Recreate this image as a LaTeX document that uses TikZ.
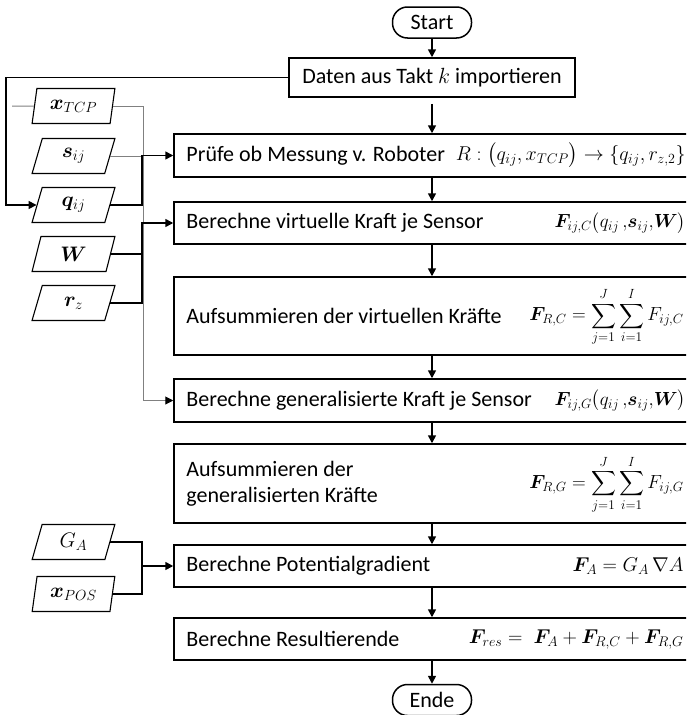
\RequirePackage{fix-cm}
\documentclass[tikz,border=0pt]{standalone}
\usepackage{amsmath}
\usepackage{bm}
\usepackage{fontspec}
\setmainfont{Carlito}
\usetikzlibrary{arrows.meta,shapes.geometric,calc}

\tikzset{
  txt/.style={font=\fontsize{22}{26}\selectfont, inner sep=0pt},
  mth/.style={font=\fontsize{20}{24}\selectfont, inner sep=0pt},
  summ/.style={font=\fontsize{19}{23}\selectfont, inner sep=0pt},
  stepbox/.style={draw, line width=1.5pt, minimum width=516pt, inner sep=0pt},
  term/.style={draw, line width=1.5pt, rounded corners=15pt, minimum width=79pt,
    minimum height=31pt, inner sep=0pt, font=\fontsize{22}{26}\selectfont},
  io/.style={draw, line width=1.1pt, trapezium, trapezium left angle=76,
    trapezium right angle=104, trapezium stretches=true, minimum width=83pt,
    minimum height=35pt, inner sep=0pt, font=\fontsize{21}{25}\selectfont},
  flow/.style={line width=1.6pt, -{Triangle[length=8pt,width=8pt]}},
  link/.style={line width=1.6pt},
  feed/.style={draw=gray, line width=1pt},
  feedarrow/.style={draw=gray, line width=1pt, -{Triangle[length=8pt,width=8pt,color=black]}},
}

\begin{document}
\begin{tikzpicture}[x=1pt,y=-1pt]
\clip (0,0) rectangle (686,715);

% terminals and process steps
\node[term] (start) at (432,22.5) {Start};
\node[draw, line width=1.5pt, minimum width=286pt, minimum height=39pt, inner sep=0pt,
      font=\fontsize{22}{26}\selectfont] (daten) at (432,77.5) {Daten aus Takt $k$ importieren};

\node[stepbox, minimum height=43pt] (b1) at (432,155.5) {};
\node[stepbox, minimum height=42pt] (b2) at (432,223) {};
\node[stepbox, minimum height=78pt] (b3) at (432,316) {};
\node[stepbox, minimum height=43pt] (b4) at (432,400.5) {};
\node[stepbox, minimum height=79pt] (b5) at (432,483.5) {};
\node[stepbox, minimum height=42pt] (b6) at (432,566) {};
\node[stepbox, minimum height=42pt] (b7) at (432,639) {};
\node[term] (ende) at (432,700) {Ende};

% step descriptions
\node[txt, anchor=west] (b1l) at ([xshift=13pt]b1.west) {Prüfe ob Messung v. Roboter};
\node[txt, anchor=west] (b2l) at ([xshift=13pt]b2.west) {Berechne virtuelle Kraft je Sensor};
\node[txt, anchor=west] (b3l) at ([xshift=13pt]b3.west) {Aufsummieren der virtuellen Kräfte};
\node[txt, anchor=west] (b4l) at ([xshift=13pt]b4.west) {Berechne generalisierte Kraft je Sensor};
\node[txt, anchor=west, align=left] (b5l) at ([xshift=13pt]b5.west) {Aufsummieren der\\generalisierten Kräfte};
\node[txt, anchor=west] (b6l) at ([xshift=13pt]b6.west) {Berechne Potentialgradient};
\node[txt, anchor=west] (b7l) at ([xshift=13pt]b7.west) {Berechne Resultierende};

% formulas
\node[mth, anchor=east] (b1f) at ([xshift=-5pt]b1.east)
  {$R:\bigl(q_{ij},x_{TCP}\bigr)\rightarrow\{q_{ij},r_{z,2}\}$};
\node[mth, anchor=east, font=\fontsize{19}{23}\selectfont] (b2f) at ([xshift=-5pt]b2.east)
  {$\bm{F}_{ij,C}\bigl(q_{ij}\,{,}\bm{s}_{ij}{,}\bm{W}\bigr)$};
\node[summ, anchor=east] (b3f) at ([xshift=-7pt,yshift=-1pt]b3.east)
  {$\displaystyle \bm{F}_{R,C}=\sum_{j=1}^{J}\sum_{i=1}^{I}F_{ij,C}$};
\node[mth, anchor=east, font=\fontsize{19}{23}\selectfont] (b4f) at ([xshift=-5pt]b4.east)
  {$\bm{F}_{ij,G}\bigl(q_{ij}\,{,}\bm{s}_{ij}{,}\bm{W}\bigr)$};
\node[summ, anchor=east] (b5f) at ([xshift=-7pt,yshift=-1pt]b5.east)
  {$\displaystyle \bm{F}_{R,G}=\sum_{j=1}^{J}\sum_{i=1}^{I}F_{ij,G}$};
\node[mth, anchor=east] (b6f) at ([xshift=-7pt]b6.east)
  {$\bm{F}_{A}=G_A\,\nabla A$};
\node[mth, anchor=east] (b7f) at ([xshift=-7pt]b7.east)
  {$\bm{F}_{res}=\;\bm{F}_{A}+\bm{F}_{R,C}+\bm{F}_{R,G}$};

% input data
\node[io] (xtcp) at (73.5,106) {$\bm{x}_{TCP}$};
\node[io] (sij)  at (73.5,156) {$\bm{s}_{ij}$};
\node[io] (qij)  at (73.5,205) {$\bm{q}_{ij}$};
\node[io] (W)    at (73.5,254) {$\bm{W}$};
\node[io] (rz)   at (73.5,303) {$\bm{r}_{z}$};
\node[io] (GA)   at (73.5,542) {$G_A$};
\node[io] (xpos) at (73.5,594) {$\bm{x}_{POS}$};

% routing points
\coordinate (loop) at (6,150);
\coordinate (bus) at (142,0);
\coordinate (gbus) at (143.5,0);
\coordinate (stub) at (12,106);

% main flow
\draw[flow] (start) -- (daten);
\draw[flow] ([yshift=-6pt]daten.south) -- (b1.north);
\draw[flow] (b1) -- (b2);
\draw[flow] (b2) -- (b3);
\draw[flow] (b3) -- (b4);
\draw[flow] (b4) -- (b5);
\draw[flow] (b5) -- (b6);
\draw[flow] (b6) -- (b7);
\draw[flow] (b7) -- (ende);

% feedback of imported data into q_ij
\draw[flow] (daten.west) -| (loop) |- (qij.west);

% TCP position to the generalised force
\draw[feed] (stub) -- (xtcp.west);
\draw[feedarrow] (xtcp.east) -| (b4.west -| gbus) -- (b4.west);

% inputs of the robot check
\draw[feed] (sij.east) -- (sij.east -| bus);
\draw[flow] (qij.east) -| (b1.west -| bus) -- (b1.west);

% inputs of the virtual force
\draw[link] (W.east) -- (W.east -| bus);
\draw[flow] (rz.east) -| (b2.west -| bus) -- (b2.west);

% inputs of the potential gradient
\draw[link] (GA.east) -| (xpos.east -| bus) -- (xpos.east);
\draw[flow] (b6.west -| bus) -- (b6.west);
\end{tikzpicture}
\end{document}
